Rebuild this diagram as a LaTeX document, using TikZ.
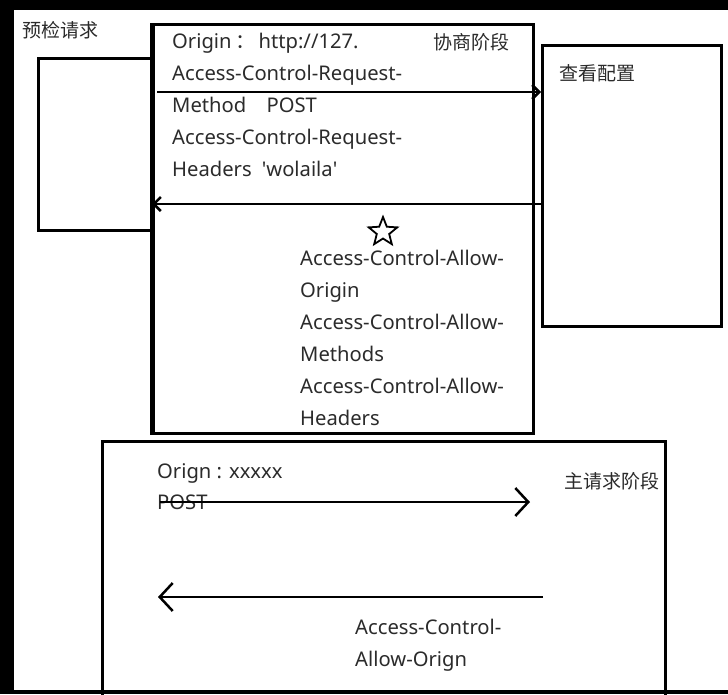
\documentclass[tikz,border=0pt]{standalone}
\usepackage{fontspec}
\setmainfont{Noto Sans}
\newfontfamily\cjk{Noto Sans CJK SC}
\usetikzlibrary{positioning,arrows.meta,shapes.geometric}
\definecolor{InkGray}{HTML}{2B2B2B}

\begin{document}
\begin{tikzpicture}[x=1pt,y=-1pt,>={Straight Barb[length=7pt,width=14pt]}]
  \tikzstyle{stage}=[draw=black,line width=3pt,inner sep=0pt,anchor=north west]
  \tikzstyle{hdr}=[anchor=north west,inner sep=0pt,align=left,text=InkGray,
    font=\fontsize{20.2}{32}\selectfont]
  \tikzstyle{tag}=[anchor=west,inner sep=0pt,text=InkGray,
    font=\cjk\fontsize{19}{20}\selectfont]
  \tikzstyle{bigarrow}=[-{Straight Barb[length=13pt,width=28pt]},line width=2.5pt]
  \useasboundingbox (0,0) rectangle (728,694);
  \fill[black] (0,0) rectangle (728,694);
  \fill[white] (14,10) rectangle (728,690);
  % boxes
  \node[stage,minimum width=113pt,minimum height=172pt] (browser) at (37,57) {};
  \node[stage,minimum width=380pt,minimum height=409pt] (nego) at (152,23) {};
  \draw[line width=5pt] (nego.north west) -- (nego.south west);
  \node[stage,minimum width=179pt,minimum height=281pt] (config) at (541,44) {};
  \node[stage,minimum width=563pt,minimum height=262pt] (main) at (101,440) {};
  \fill[black] (14,690) rectangle (728,694);
  % labels
  \node[tag] (prelabel) at (22,30) {预检请求};
  \node[tag] (negolabel) at (433,42) {协商阶段};
  \node[tag] (cfglabel) at (559,73) {查看配置};
  \node[tag] (mainlabel) at (564,481) {主请求阶段};
  % header texts
  \node[hdr] (reqhdr) at (172,33) {Origin\,{\cjk ：}\,http://127.\\
    Access-Control-Request-\\Method\quad POST\\Access-Control-Request-\\
    Headers\enspace\textquotesingle wolaila\textquotesingle};
  \node[hdr] (allowhdr) at (300,250) {Access-Control-Allow-\\Origin\\
    Access-Control-Allow-\\Methods\\Access-Control-Allow-\\Headers};
  \node[hdr] (orign) at (157,463) {Orign : xxxxx};
  \node[hdr] (post) at (157,495) {POST};
  \node[hdr] (allowmain) at (355,619) {Access-Control-\\Allow-Orign};
  \node[draw,star,star points=5,star point ratio=2.3,minimum size=30pt,
    line width=1.8pt,inner sep=0pt] (star) at (383,232) {};
  % arrows
  \coordinate (reqout) at (157,92);
  \coordinate (respin) at (541,204);
  \draw[->,line width=2.5pt] (reqout) -- (reqout -| config.west);
  \draw[->,line width=2.5pt] (respin) -- (respin -| nego.west);
  \coordinate (postL) at (160,502);
  \coordinate (postR) at (530,502);
  \coordinate (allowR) at (543,597);
  \coordinate (allowL) at (158,597);
  \draw[bigarrow] (postL) -- (postR);
  \draw[bigarrow] (allowR) -- (allowL);
\end{tikzpicture}
\end{document}
